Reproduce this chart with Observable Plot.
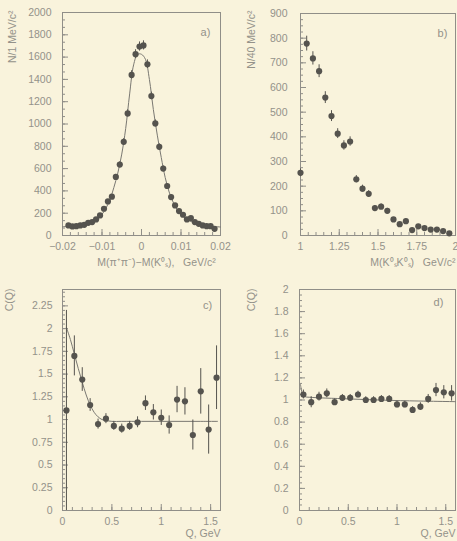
<!DOCTYPE html>
<html><head><meta charset="utf-8">
<script src="https://cdn.jsdelivr.net/npm/d3@7"></script>
<script src="https://cdn.jsdelivr.net/npm/@observablehq/plot@0.6"></script>
<style>
html,body{margin:0;padding:0;background:#f9f3dc;}
#fig{position:relative;width:457px;height:541px;background:#f9f3dc;overflow:hidden;}
#fig svg{position:absolute;}
</style></head><body><div id="fig"></div>
<script>
// ---------- Panel a: M(pi+pi-) - M(K0s) ----------
const aX = [-0.0185,-0.0175,-0.0165,-0.0155,-0.0145,-0.0135,-0.0125,-0.0115,-0.0105,-0.0095,-0.0085,-0.0075,-0.0065,-0.0055,-0.0045,-0.0035,-0.0025,-0.0015,-0.0005,0.0005,0.0015,0.0025,0.0035,0.0045,0.0055,0.0065,0.0075,0.0085,0.0095,0.0105,0.0115,0.0125,0.0135,0.0145,0.0155,0.0165,0.0175,0.0185];
const aY = [90,81,84,90,96,114,120,144,180,240,306,348,525,636,840,1095,1440,1626,1695,1705,1536,1251,1005,795,600,444,345,270,219,186,144,156,120,105,90,84,84,60];
const aErr = [9,9,9,9,10,11,11,12,13,15,17,19,23,25,29,33,38,40,41,41,39,35,32,28,24,21,19,16,15,14,12,12,11,10,9,9,9,8];
const aCurveX = [-0.020,-0.019,-0.018,-0.017,-0.016,-0.015,-0.014,-0.013,-0.012,-0.011,-0.010,-0.009,-0.008,-0.007,-0.006,-0.005,-0.004,-0.003,-0.002,-0.001,0,0.001,0.002,0.003,0.004,0.005,0.006,0.007,0.008,0.009,0.010,0.011,0.012,0.013,0.014,0.015,0.016,0.017,0.018,0.019,0.020];
const aCurveY = [78,80,83,86,90,96,104,115,132,160,190,245,320,430,560,730,960,1270,1530,1625,1625,1580,1400,1130,900,700,520,390,300,235,190,158,135,118,106,98,91,86,82,79,76];
const aXTicks = [-0.02,-0.01,0,0.01,0.02];
const aYTicks = [0,200,400,600,800,1000,1200,1400,1600,1800,2000];

// ---------- Panel b: M(K0s K0s) ----------
const bX = [1.00,1.04,1.08,1.12,1.16,1.20,1.24,1.28,1.32,1.36,1.40,1.44,1.48,1.52,1.56,1.60,1.64,1.68,1.72,1.76,1.80,1.84,1.88,1.92,1.96];
const bY = [254,778,718,666,559,484,413,365,381,228,190,169,111,117,100,65,46,58,22,37,30,24,24,18,9];
const bErr = [16,30,27,26,24,22,20,19,19,15,14,13,10,11,10,8,7,8,5,6,5,5,5,4,3];
const bXTicks = [1,1.25,1.5,1.75,2];
const bYTicks = [0,100,200,300,400,500,600,700,800,900];

// ---------- Panel c: C(Q) ----------
const cX = [0.04,0.12,0.20,0.28,0.36,0.44,0.52,0.60,0.68,0.76,0.84,0.92,1.00,1.08,1.16,1.24,1.32,1.40,1.48,1.56];
const cY = [1.10,1.70,1.44,1.16,0.95,1.01,0.93,0.90,0.93,0.97,1.18,1.08,1.02,0.94,1.22,1.20,0.83,1.31,0.89,1.46];
const cErr = [1.10,0.22,0.13,0.07,0.055,0.055,0.05,0.05,0.05,0.06,0.08,0.085,0.085,0.10,0.145,0.15,0.165,0.25,0.27,0.35];
const cCurveX = [0.04,0.08,0.12,0.16,0.20,0.24,0.28,0.32,0.36,0.40,0.44,0.50,0.60,0.80,1.00,1.20,1.40,1.57];
const cCurveY = [2.01,1.88,1.72,1.56,1.41,1.27,1.16,1.08,1.03,1.00,0.99,0.98,0.98,0.98,0.98,0.98,0.98,0.98];
const cXTicks = [0,0.5,1,1.5];
const cYTicks = [0,0.25,0.5,0.75,1,1.25,1.5,1.75,2,2.25];

// ---------- Panel d: C(Q) ----------
const dX = [0.04,0.12,0.20,0.28,0.36,0.44,0.52,0.60,0.68,0.76,0.84,0.92,1.00,1.08,1.16,1.24,1.32,1.40,1.48,1.56];
const dY = [1.05,0.98,1.03,1.06,0.98,1.02,1.02,1.05,1.00,1.00,1.01,1.01,0.96,0.96,0.91,0.94,1.01,1.09,1.07,1.06];
const dErr = [0.04,0.05,0.04,0.04,0.03,0.03,0.03,0.03,0.03,0.03,0.03,0.03,0.03,0.03,0.03,0.035,0.04,0.06,0.06,0.07];
const dCurveX = [0.01,0.03,0.06,0.10,0.50,1.00,1.60];
const dCurveY = [1.14,1.06,1.03,1.025,1.01,0.995,0.985];
const dXTicks = [0,0.5,1,1.5];
const dYTicks = [0,0.2,0.4,0.6,0.8,1,1.2,1.4,1.6,1.8,2];

// ---------- styling ----------
const FONT = "'Liberation Sans', Arial, sans-serif";
const TXT = "#94928a";
const INK = "#55534e";
const LINE = "#7a7872";
const FRAME = "#908e88";

const fig = document.getElementById("fig");

function range(a, b, s) { const out = []; const n = Math.round((b - a) / s); for (let i = 0; i <= n; i++) out.push(+(a + i * s).toFixed(6)); return out; }

function panel(o) {
  const fw = o.width - o.ml - o.mr, fh = o.height - o.mt - o.mb;
  const pts = o.x.map((x, i) => ({x, y: o.y[i], e: o.err[i]}));
  const cur = o.cx.map((x, i) => ({x, y: o.cy[i]}));
  const fmt = o.fmt || (d => String(d).replace("-", "\u2212"));
  const svg = Plot.plot({
    width: o.width, height: o.height,
    marginLeft: o.ml, marginRight: o.mr, marginTop: o.mt, marginBottom: o.mb,
    style: {background: "transparent", color: TXT, fontFamily: FONT, fontSize: "10.5px", overflow: "visible"},
    x: {domain: o.xd, label: null},
    y: {domain: o.yd, label: null},
    marks: [
      Plot.frame({stroke: FRAME, strokeWidth: 1}),
      Plot.tickX(o.xMinor, {x: d => d, stroke: FRAME, insetTop: fh - 3}),
      Plot.tickX(o.xt, {x: d => d, stroke: FRAME, insetTop: fh - 6}),
      Plot.tickY(o.yMinor, {y: d => d, stroke: FRAME, insetRight: fw - 3}),
      Plot.tickY(o.yt, {y: d => d, stroke: FRAME, insetRight: fw - 6}),
      Plot.axisX({ticks: o.xt, tickSize: 0, tickPadding: 7, tickFormat: fmt, label: null, fill: TXT}),
      Plot.axisY({ticks: o.yt, tickSize: 0, tickPadding: o.ypad, tickFormat: fmt, label: null, fill: TXT}),
      Plot.line(cur, {x: "x", y: "y", stroke: LINE, strokeWidth: 1, curve: "catmull-rom"}),
      Plot.ruleX(pts, {x: "x", y1: d => Math.max(o.yd[0], d.y - d.e), y2: d => d.y + d.e, stroke: INK, strokeWidth: 1}),
      Plot.dot(pts, {x: "x", y: "y", r: 3.1, fill: INK, stroke: null}),
      Plot.text([o.ytitle], {frameAnchor: "top-left", dx: o.ytx, dy: o.yty, rotate: -90, textAnchor: "end", lineAnchor: "middle", fill: TXT, fontSize: 10.5}),
      Plot.text([o.xtitle], {frameAnchor: o.xtAnchor, dx: o.xtx, dy: o.xty, textAnchor: o.xtTA, lineAnchor: "middle", fill: TXT, fontSize: 10.5}),
      Plot.text([o.tag], {frameAnchor: "top-right", dx: o.tagx, dy: o.tagy, textAnchor: "middle", lineAnchor: "middle", fill: TXT, fontSize: 11})
    ]
  });
  svg.style.left = o.left + "px";
  svg.style.top = o.top + "px";
  fig.appendChild(svg);
}

panel({
  left: 0, top: 0, width: 228, height: 270, ml: 62, mr: 8, mt: 12, mb: 35,
  xd: [-0.02, 0.02], yd: [0, 2000], xt: aXTicks, yt: aYTicks,
  xMinor: range(-0.02, 0.02, 0.002), yMinor: range(0, 2000, 200 / 3),
  x: aX, y: aY, err: aErr, cx: aCurveX, cy: aCurveY, ypad: 11,
  ytitle: "N/1 MeV/c\u00B2", ytx: -50, yty: -2,
  xtitle: "M(\u03C0\u207A\u03C0\u207B)\u2212M(K\u2070\u209B),   GeV/c\u00B2", xtAnchor: "bottom", xtx: 15, xty: 27, xtTA: "middle",
  tag: "a)", tagx: -15, tagy: 20
});

panel({
  left: 228, top: 0, width: 229, height: 270, ml: 72, mr: 2, mt: 13, mb: 35,
  xd: [1, 2], yd: [0, 900], xt: bXTicks, yt: bYTicks,
  xMinor: range(1, 2, 0.05), yMinor: range(0, 900, 25),
  x: bX, y: bY, err: bErr, cx: [], cy: [], ypad: 13,
  ytitle: "N/40 MeV/c\u00B2", ytx: -49, yty: -3,
  xtitle: "M(K\u2070\u209BK\u2070\u209B)   GeV/c\u00B2", xtAnchor: "bottom-right", xtx: 0, xty: 27, xtTA: "end",
  tag: "b)", tagx: -13, tagy: 20
});

panel({
  left: 0, top: 270, width: 228, height: 271, ml: 62, mr: 8, mt: 19, mb: 31,
  xd: [0, 1.6], yd: [0, 2.43], xt: cXTicks, yt: cYTicks,
  xMinor: range(0, 1.6, 0.1), yMinor: range(0, 2.4, 0.05),
  x: cX, y: cY, err: cErr, cx: cCurveX, cy: cCurveY, ypad: 10,
  ytitle: "C(Q)", ytx: -53, yty: -1,
  xtitle: "Q, GeV", xtAnchor: "bottom-right", xtx: 0, xty: 23, xtTA: "end",
  tag: "c)", tagx: -13, tagy: 16
});

panel({
  left: 228, top: 270, width: 229, height: 271, ml: 71, mr: 2, mt: 19, mb: 31,
  xd: [0, 1.6], yd: [0, 2], xt: dXTicks, yt: dYTicks,
  xMinor: range(0, 1.6, 0.1), yMinor: range(0, 2, 0.05),
  x: dX, y: dY, err: dErr, cx: dCurveX, cy: dCurveY, ypad: 11,
  ytitle: "C(Q)", ytx: -48, yty: -1,
  xtitle: "Q, GeV", xtAnchor: "bottom-right", xtx: 0, xty: 23, xtTA: "end",
  tag: "d)", tagx: -17, tagy: 13
});
</script></body></html>
